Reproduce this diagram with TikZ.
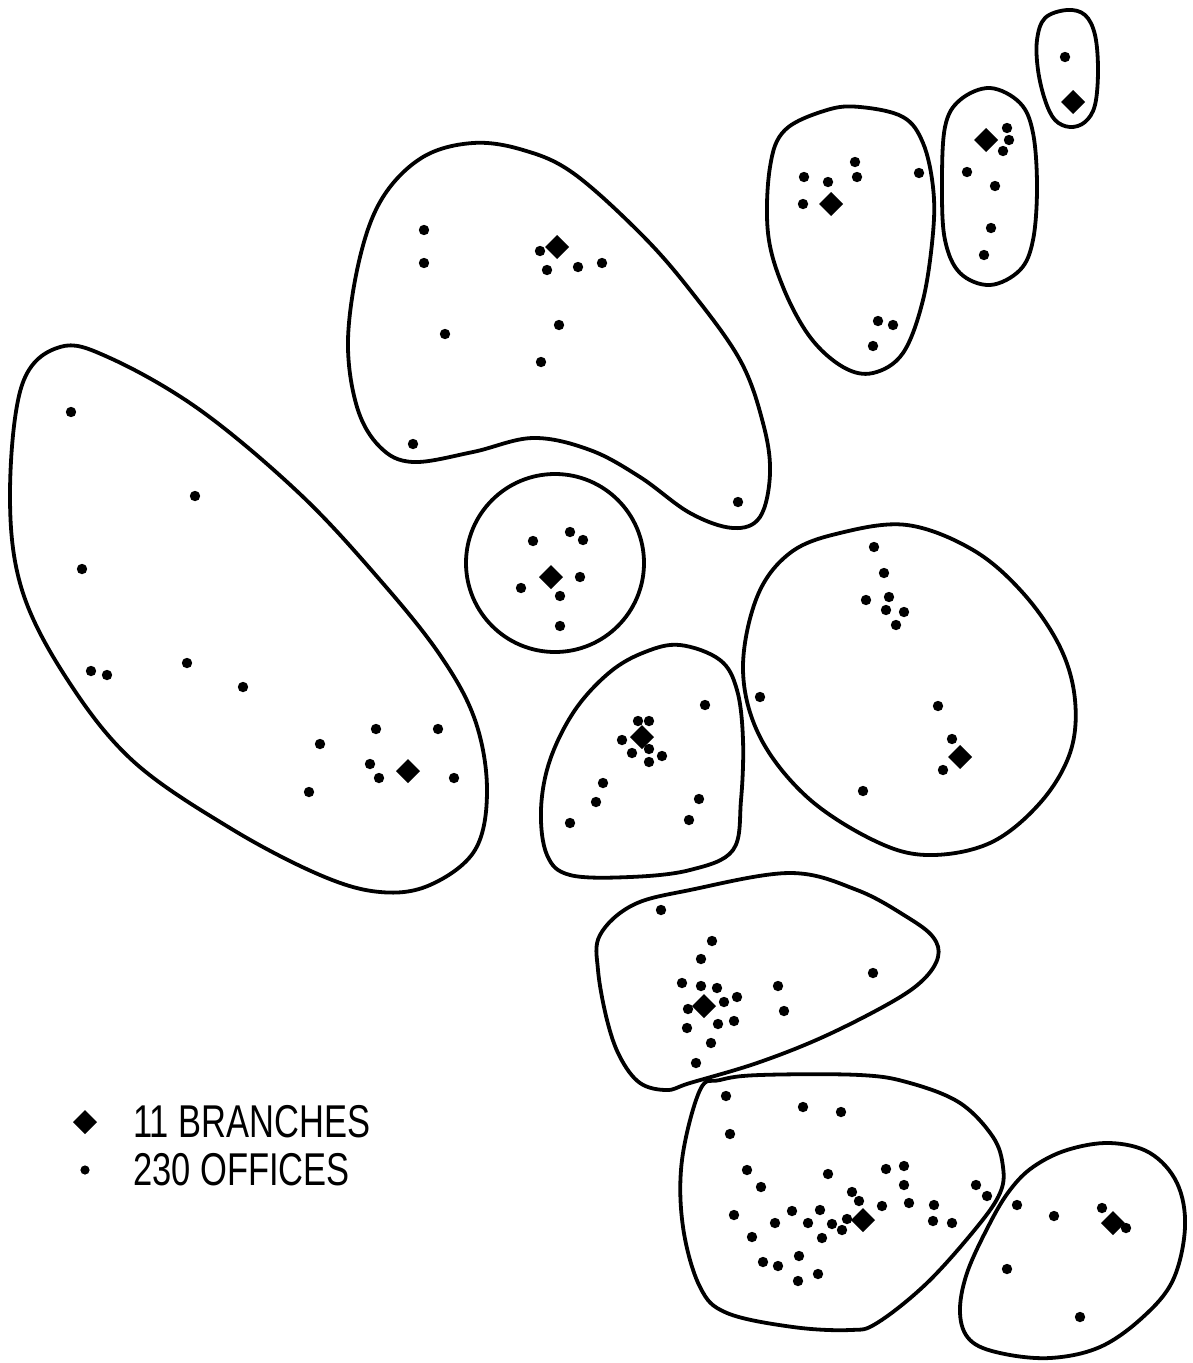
\documentclass[tikz,border=0pt]{standalone}
\usepackage{fontspec}
\setmainfont{Liberation Sans}
\begin{document}
\begin{tikzpicture}[x=1pt,y=-1pt,
  blob/.style={draw=black,line width=3.8pt,line join=round},
  diam/.pic={\fill (0,-12) -- (12,0) -- (0,12) -- (-12,0) -- cycle;},
  legtext/.style={anchor=west,inner sep=0pt,font=\fontsize{46}{50}\selectfont}]
\useasboundingbox (0,0) rectangle (1192,1363);
\fill[white] (0,0) rectangle (1192,1363);
% cluster outlines
\draw[blob] plot[smooth cycle,tension=0.6] coordinates {(22,385) (60,347) (110,358) (200,410) (300,494) (380,580) (440,655) (475,720) (487,790) (475,850) (430,885) (380,892) (320,875) (230,828) (133,761) (67,679) (22,590) (10,495)};
\draw[blob] plot[smooth cycle,tension=0.6] coordinates {(473,143) (523,150) (573,173) (640,233) (690,290) (740,360) (763,423) (770,473) (760,517) (733,528) (690,513) (640,477) (590,450) (533,438) (473,452) (413,462) (380,447) (357,407) (348,340) (360,257) (383,197) (423,157)};
\draw[blob] plot[smooth cycle,tension=0.6] coordinates {(860,107) (903,117) (923,143) (933,187) (933,233) (923,300) (903,353) (873,373) (843,367) (810,337) (783,287) (768,233) (770,167) (785,130) (827,110)};
\draw[blob] plot[smooth cycle,tension=0.6] coordinates {(990,88) (1020,103) (1033,133) (1037,187) (1033,240) (1020,270) (990,285) (960,273) (945,240) (942,187) (945,127) (960,100)};
\draw[blob] plot[smooth cycle,tension=0.6] coordinates {(1067,10) (1085,15) (1095,35) (1098,70) (1095,105) (1085,122) (1070,127) (1055,120) (1045,100) (1038,70) (1037,40) (1045,18)};
\draw[blob] (555,563) circle (89);
\draw[blob] plot[smooth cycle,tension=0.6] coordinates {(907,525) (973,550) (1023,593) (1060,647) (1075,700) (1070,753) (1040,803) (990,843) (927,855) (873,840) (807,797) (760,737) (743,670) (757,597) (790,553) (840,533)};
\draw[blob] plot[smooth cycle,tension=0.6] coordinates {(680,645) (720,660) (737,690) (743,740) (741,800) (733,850) (690,870) (630,877) (570,875) (547,855) (541,810) (550,760) (575,710) (610,672) (645,652)};
\draw[blob] plot[smooth cycle,tension=0.6] coordinates {(600,935) (633,905) (690,890) (790,873) (857,890) (907,917) (933,937) (938,957) (923,980) (890,1003) (823,1037) (757,1063) (690,1083) (667,1090) (640,1083) (620,1057) (607,1020) (598,970)};
\draw[blob] plot[smooth cycle,tension=0.6] coordinates {(720,1080) (760,1075) (860,1075) (910,1083) (960,1103) (993,1137) (1003,1167) (1000,1193) (977,1227) (927,1283) (877,1323) (850,1330) (793,1327) (727,1313) (700,1287) (683,1227) (682,1160) (700,1090)};
\draw[blob] plot[smooth cycle,tension=0.6] coordinates {(1110,1143) (1150,1153) (1177,1183) (1185,1227) (1173,1280) (1143,1317) (1100,1347) (1050,1358) (1000,1353) (970,1340) (960,1313) (967,1273) (990,1223) (1010,1190) (1033,1167) (1067,1150)};
% offices
\foreach \x/\y in {71/412,195/496,82/569,91/671,107/675,187/663,243/687,376/729,438/729,320/744,370/764,379/778,454/778,309/792,
 424/230,424/263,445/334,540/251,547/270,578/267,602/263,559/325,541/362,413/444,738/502,
 804/177,828/182,803/204,855/162,857/177,919/173,878/321,893/325,873/346,
 1007/128,1009/140,1003/151,967/172,995/186,991/228,984/255,
 1065/57,
 533/541,570/532,583/540,580/577,521/588,560/596,560/626,
 874/547,884/573,866/600,889/597,886/610,904/612,896/625,760/697,938/706,952/739,943/770,863/791,
 705/705,638/721,649/721,622/740,649/749,632/753,662/756,649/762,603/783,596/802,570/823,699/799,689/820,
 661/910,712/941,701/959,682/983,701/986,717/988,724/1002,737/997,688/1009,718/1024,734/1021,687/1028,711/1043,696/1063,778/986,784/1011,873/973,
 726/1096,803/1107,841/1112,730/1134,747/1170,761/1187,828/1174,852/1192,859/1201,886/1169,904/1166,904/1185,909/1203,882/1206,934/1205,933/1221,952/1223,976/1185,987/1196,734/1215,792/1211,820/1210,775/1223,808/1223,832/1224,847/1219,842/1230,752/1237,822/1238,799/1256,763/1262,778/1266,818/1274,798/1281,
 1017/1205,1054/1216,1102/1208,1126/1228,1007/1269,1080/1317}
  \fill (\x,\y) circle (5.2);
% branches
\foreach \x/\y in {408/771,557/247,831/204,986/140,1073/102,551/577,960/757,642/737,704/1006,863/1220,1113/1223}
  \pic at (\x,\y) {diam};
% legend
\pic at (85,1122) {diam};
\fill (85,1170) circle (4.6);
\node[legtext] (branches) at (133,1122) {\scalebox{0.75}[1]{11 BRANCHES}};
\node[legtext] (offices) at (133,1170) {\scalebox{0.75}[1]{230 OFFICES}};
\end{tikzpicture}
\end{document}
